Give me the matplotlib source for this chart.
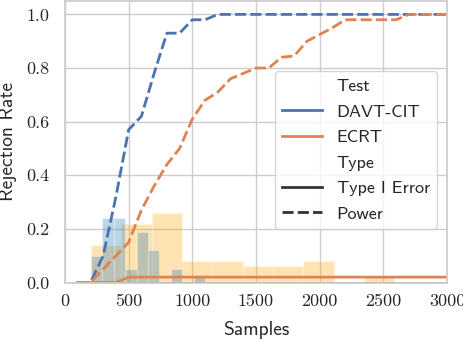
import numpy as np
import matplotlib
matplotlib.use('Agg')
import matplotlib.pyplot as plt
from matplotlib.lines import Line2D

# rejection rates vs sample size
samples = [100, 200, 300, 400, 500, 600, 700, 800, 900, 1000,
           1100, 1200, 1300, 1400, 1500, 1600, 1700, 1800, 1900, 2000,
           2100, 2200, 2300, 2400, 2500, 2600, 2700, 2800, 2900, 3000]
davt_type1 = [0, 0, 0, 0, 0, 0, 0, 0, 0, 0,
              0, 0, 0, 0, 0, 0, 0, 0, 0, 0,
              0, 0, 0, 0, 0, 0, 0, 0, 0, 0]
davt_power = [0, 0, 0.10, 0.32, 0.57, 0.62, 0.78, 0.93, 0.93, 0.98,
              0.98, 1, 1, 1, 1, 1, 1, 1, 1, 1,
              1, 1, 1, 1, 1, 1, 1, 1, 1, 1]
ecrt_type1 = [0, 0, 0, 0, 0.02, 0.02, 0.02, 0.02, 0.02, 0.02,
              0.02, 0.02, 0.02, 0.02, 0.02, 0.02, 0.02, 0.02, 0.02, 0.02,
              0.02, 0.02, 0.02, 0.02, 0.02, 0.02, 0.02, 0.02, 0.02, 0.02]
ecrt_power = [0, 0, 0.05, 0.10, 0.15, 0.27, 0.36, 0.44, 0.50, 0.61,
              0.68, 0.71, 0.76, 0.78, 0.80, 0.80, 0.84, 0.845, 0.90, 0.925,
              0.95, 0.98, 0.98, 0.98, 0.98, 0.98, 1, 1, 1, 1]

# stopping time histograms (fraction of runs per bin)
davt_edges = [205, 294.5, 384, 473.5, 563, 652.5, 742, 831.5, 921, 1010.5, 1100]
davt_hist = [0.10, 0.24, 0.24, 0.05, 0.19, 0.12, 0.0, 0.05, 0.0, 0.02]
ecrt_edges = [205, 443, 681, 920, 1158, 1396, 1634, 1872, 2111, 2349, 2587]
ecrt_hist = [0.14, 0.22, 0.26, 0.08, 0.08, 0.06, 0.06, 0.08, 0.0, 0.02]

xticks = [0, 500, 1000, 1500, 2000, 2500, 3000]
yticks = [0.0, 0.2, 0.4, 0.6, 0.8, 1.0]

blue = '#4c72b0'
orange = '#dd8452'
grey = '#cccccc'
txt = '#262626'

plt.rcParams['font.family'] = ['cmss10', 'DejaVu Sans']
plt.rcParams['axes.formatter.use_mathtext'] = True

fig = plt.figure(figsize=(4.64, 3.40), dpi=100)
ax = fig.add_axes([65 / 464, 57.5 / 340, 382 / 464, 281.5 / 340])
ax.set_axisbelow(True)
ax.grid(True, color=grey, linewidth=1.0)
for s in ax.spines.values():
    s.set_color(grey)
    s.set_linewidth(1.25)

# histograms behind the lines
ax.bar(ecrt_edges[:-1], ecrt_hist, width=np.diff(ecrt_edges), align='edge',
       color='orange', alpha=0.3, edgecolor='white', linewidth=0.8)
ax.bar(davt_edges[:-1], davt_hist, width=np.diff(davt_edges), align='edge',
       color='#1f77b4', alpha=0.3, edgecolor='white', linewidth=0.8)

lw = 2.0
ax.plot(samples, davt_type1, color=blue, lw=lw)
ax.plot(samples, davt_power, color=blue, lw=lw, dashes=(4, 1.5))
ax.plot(samples, ecrt_type1, color=orange, lw=lw)
ax.plot(samples, ecrt_power, color=orange, lw=lw, dashes=(4, 1.5))

ax.set_xlim(0, 3000)
ax.set_ylim(0, 1.05)
ax.set_xticks(xticks)
ax.set_xticklabels([str(t) for t in xticks], fontfamily='cmr10', fontsize=13, color=txt)
ax.set_yticks(yticks)
ax.set_yticklabels(['%.1f' % t for t in yticks], fontfamily='cmr10', fontsize=13, color=txt)
ax.tick_params(length=0)
ax.tick_params(axis='x', pad=8)
ax.tick_params(axis='y', pad=11)
ax.set_xlabel('Samples', fontsize=14, color=txt, labelpad=9)
ax.set_ylabel('Rejection Rate', fontsize=14, color=txt, labelpad=7)

handles = [Line2D([], [], color='none'),
           Line2D([], [], color=blue, lw=lw),
           Line2D([], [], color=orange, lw=lw),
           Line2D([], [], color='none'),
           Line2D([], [], color='#333333', lw=lw),
           Line2D([], [], color='#333333', lw=lw, dashes=(4, 1.5))]
labels = ['Test', 'DAVT-CIT', 'ECRT', 'Type', 'Type I Error', 'Power']
leg = ax.legend(handles, labels, loc='upper right', bbox_to_anchor=(0.974, 0.751),
                borderaxespad=0, fontsize=13, handlelength=2.2, labelspacing=0.55,
                edgecolor=grey, fancybox=True)
for t in leg.get_texts():
    t.set_color(txt)

plt.savefig('out.png', dpi=100)
plt.close()
